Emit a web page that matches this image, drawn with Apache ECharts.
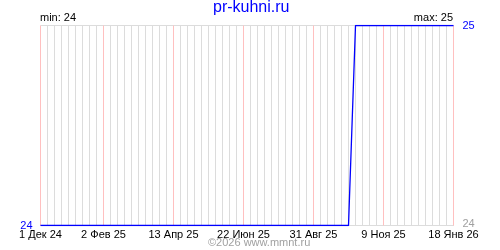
<!DOCTYPE html>
<html><head><meta charset="utf-8">
<script src="https://cdn.jsdelivr.net/npm/echarts@6/dist/echarts.min.js"></script>
<style>html,body{margin:0;padding:0;background:#fff}#c{width:500px;height:250px}</style>
</head><body><div id="c"></div>
<script>
var categories = [
 "1 Дек 24","8 Дек 24","15 Дек 24","22 Дек 24","29 Дек 24",
 "5 Янв 25","12 Янв 25","19 Янв 25","26 Янв 25",
 "2 Фев 25","9 Фев 25","16 Фев 25","23 Фев 25",
 "2 Мар 25","9 Мар 25","16 Мар 25","23 Мар 25","30 Мар 25",
 "6 Апр 25","13 Апр 25","20 Апр 25","27 Апр 25",
 "4 Май 25","11 Май 25","18 Май 25","25 Май 25",
 "1 Июн 25","8 Июн 25","15 Июн 25","22 Июн 25","29 Июн 25",
 "6 Июл 25","13 Июл 25","20 Июл 25","27 Июл 25",
 "3 Авг 25","10 Авг 25","17 Авг 25","24 Авг 25","31 Авг 25",
 "7 Сен 25","14 Сен 25","21 Сен 25","28 Сен 25",
 "5 Окт 25","12 Окт 25","19 Окт 25","26 Окт 25",
 "2 Ноя 25","9 Ноя 25","16 Ноя 25","23 Ноя 25","30 Ноя 25",
 "7 Дек 25","14 Дек 25","21 Дек 25","28 Дек 25",
 "4 Янв 26","11 Янв 26","18 Янв 26"
];
var values = [
 24,24,24,24,24, 24,24,24,24, 24,24,24,24, 24,24,24,24,24,
 24,24,24,24, 24,24,24,24, 24,24,24,24,24, 24,24,24,24,
 24,24,24,24,24, 24,24,24,24, 24,
 25,25,25, 25,25,25,25,25, 25,25,25,25, 25,25,25
];
var tickLabels = ["1 Дек 24","2 Фев 25","13 Апр 25","22 Июн 25","31 Авг 25","9 Ноя 25","18 Янв 26"];
var yMin = 24, yMax = 25;
var titleText = "pr-kuhni.ru";
var minText = "min: 24", maxText = "max: 25";
var footerText = "©2026 www.mmnt.ru";

var font = "Liberation Sans";
function isTick(i){ return tickLabels.indexOf(categories[i]) >= 0; }
var chart = echarts.init(document.getElementById('c'), null, {renderer:'canvas'});
chart.setOption({
  animation:false,
  backgroundColor:'#fff',
  title:[
    {text:titleText, left:213, top:0, padding:0, textStyle:{color:'#0000ff', fontFamily:font, fontSize:16, fontWeight:'normal'}},
    {text:minText, left:40, top:12, padding:0, textStyle:{color:'#000', fontFamily:font, fontSize:11, fontWeight:'normal'}},
    {text:maxText, right:47, top:12, padding:0, textStyle:{color:'#000', fontFamily:font, fontSize:11, fontWeight:'normal'}},
    {text:footerText, left:208, top:237, padding:0, textStyle:{color:'#a0a0a0', fontFamily:font, fontSize:11, fontWeight:'normal'}}
  ],
  grid:{left:40.5, right:46.5, top:25.5, bottom:24.5, containLabel:false},
  xAxis:[
    {type:'category', data:categories, boundaryGap:false,
     axisLine:{lineStyle:{color:'#dcdcdc', width:1}}, axisTick:{show:false},
     axisLabel:{interval:function(i){return isTick(i);}, color:'#000', fontFamily:font, fontSize:11, margin:4},
     splitLine:{show:true, interval:function(i){return !isTick(i);}, lineStyle:{color:'#dcdcdc', width:1}}}
  ],
  yAxis:[
    {type:'value', min:yMin, max:yMax, interval:1, position:'left',
     axisLine:{show:false}, axisTick:{show:false},
     axisLabel:{margin:8, fontFamily:font, fontSize:11, color:'#0000ff', formatter:function(v){return v===yMin?String(v):'';}},
     splitLine:{show:true, lineStyle:{color:'#dcdcdc', width:1}}},
    {type:'value', min:yMin, max:yMax, interval:1, position:'right',
     axisLine:{show:false}, axisTick:{show:false},
     axisLabel:{margin:9, fontFamily:font, fontSize:11,
       formatter:function(v){return v===yMax?'{b|'+v+'}':'{g|'+v+'}';},
       rich:{b:{color:'#0000ff', fontFamily:font, fontSize:11}, g:{color:'#a0a0a0', fontFamily:font, fontSize:11, padding:[0,0,4,0]}}},
     splitLine:{show:false}}
  ],
  series:[
    {type:'line', data:values, xAxisIndex:0, yAxisIndex:0, symbol:'none', z:5,
     lineStyle:{color:'#0000ff', width:1.3},
     markLine:{silent:true, symbol:['none','none'], label:{show:false}, animation:false,
       emphasis:{disabled:true}, z:1,
       lineStyle:{color:'#ffc0c0', width:1, type:'solid', opacity:1},
       data:tickLabels.map(function(t){return [{xAxis:t, yAxis:yMin},{xAxis:t, yAxis:yMax}];})}}
  ]
});
</script></body></html>
